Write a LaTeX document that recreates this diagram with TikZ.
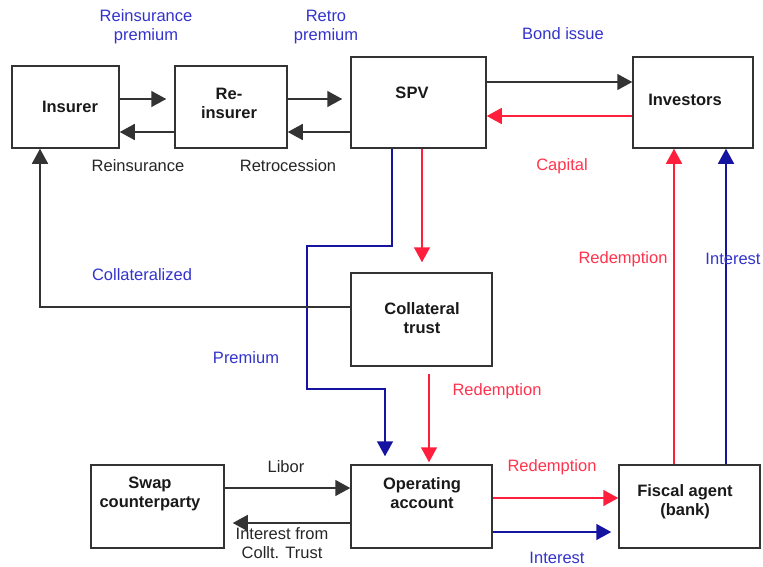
\documentclass[tikz,border=0pt]{standalone}
\usepackage{fontspec}
\setmainfont{Liberation Sans}
\usepackage{tikz}
\usetikzlibrary{arrows.meta, positioning}
\definecolor{flowblue}{RGB}{20,20,160}
\definecolor{flowred}{RGB}{255,30,60}
\definecolor{lblblue}{RGB}{51,51,204}
\definecolor{lblred}{RGB}{255,51,77}

\begin{document}
\begin{tikzpicture}[x=1pt,y=-1pt,>={Triangle[length=15pt,width=16pt]},
    box/.style={draw=black!80,line width=1.5pt,inner sep=0pt},
    boxtext/.style={font=\bfseries\fontsize{16.5}{19}\selectfont,align=center,text=black!90},
    lbl/.style={font=\fontsize{16.5}{19}\selectfont,align=center,text=black!85},
    bluelbl/.style={lbl,text=lblblue},
    redlbl/.style={lbl,text=lblred},
    money/.style={draw=black!80,line width=1.5pt},
    blueflow/.style={draw=flowblue,line width=1.5pt},
    redflow/.style={draw=flowred,line width=1.5pt}]

    \useasboundingbox (0,0) rectangle (763,566);

    % the boxes
    \node[box,minimum width=107pt,minimum height=82pt] (insurer) at (65.5,107) {};
    \node[box,minimum width=112pt,minimum height=82pt] (reins) at (231,107) {};
    \node[box,minimum width=135pt,minimum height=91pt] (spv) at (418.5,102.5) {};
    \node[box,minimum width=120pt,minimum height=91pt] (investors) at (693,102.5) {};
    \node[box,minimum width=141pt,minimum height=93pt] (colltrust) at (421.5,319.5) {};
    \node[box,minimum width=141pt,minimum height=83pt] (opacc) at (421.5,506.5) {};
    \node[box,minimum width=133pt,minimum height=83pt] (swap) at (157.5,506.5) {};
    \node[box,minimum width=141pt,minimum height=83pt] (fiscal) at (689.5,506.5) {};

    \node[boxtext] (insurer-t) at (70,107) {Insurer};
    \node[boxtext] (reins-t) at (229,103) {Re-\\insurer};
    \node[boxtext] (spv-t) at (412,93) {SPV};
    \node[boxtext] (investors-t) at (685,100) {Investors};
    \node[boxtext] (colltrust-t) at (422,318) {Collateral\\trust};
    \node[boxtext] (opacc-t) at (422,493) {Operating\\account};
    \node[boxtext] (swap-t) at (150,494) {Swap\\counterparty};
    \node[boxtext] (fiscal-t) at (685,502) {Fiscal agent\\(bank)};

    % top row
    \draw[money,->,shorten >=8pt] (insurer.east |- 0,99) -- (reins.west |- 0,99);
    \draw[money,->] (reins.west |- 0,132) -- (insurer.east |- 0,132);
    \draw[money,->,shorten >=8pt] (reins.east |- 0,99) -- (spv.west |- 0,99);
    \draw[money,->] (spv.west |- 0,132) -- (reins.east |- 0,132);
    \draw[money,->] (spv.east |- 0,82) -- (investors.west |- 0,82);
    \draw[redflow,->] (investors.west |- 0,116) -- (spv.east |- 0,116);

    % down from the SPV
    \draw[blueflow,->,shorten >=8pt] (spv.south -| 392,0) |- (307,246)
        -- (307,389) -| (opacc.north -| 385,0);
    \draw[redflow,->,shorten >=10pt] (spv.south -| 422,0) -- (colltrust.north -| 422,0);
    \draw[money,->] (colltrust.west |- 0,307) -| (insurer.south -| 40,0);
    \draw[redflow,->,shorten <=7pt,shorten >=2pt] (colltrust.south -| 429,0) -- (opacc.north -| 429,0);

    % bottom row
    \draw[money,->] (swap.east |- 0,488) -- (opacc.west |- 0,488);
    \draw[money,->,shorten >=8pt] (opacc.west |- 0,523) -- (swap.east |- 0,523);
    \draw[redflow,->] (opacc.east |- 0,498) -- (fiscal.west |- 0,498);
    \draw[blueflow,->,shorten >=7pt] (opacc.east |- 0,532) -- (fiscal.west |- 0,532);
    \draw[redflow,->] (fiscal.north -| 674,0) -- (investors.south -| 674,0);
    \draw[blueflow,->] (fiscal.north -| 726,0) -- (investors.south -| 726,0);

    % labels
    \node[bluelbl] (l-reinsprem) at (146,27) {Reinsurance\\premium};
    \node[bluelbl] (l-retroprem) at (326,27) {Retro\\premium};
    \node[lbl] (l-reins) at (138,166) {Reinsurance};
    \node[lbl] (l-retro) at (288,166) {Retrocession};
    \node[bluelbl] (l-bond) at (563,34) {Bond issue};
    \node[redlbl] (l-capital) at (562,166) {Capital};
    \node[bluelbl] (l-collat) at (142,275) {Collateralized};
    \node[bluelbl] (l-premium) at (246,358) {Premium};
    \node[redlbl] (l-redem1) at (497,391) {Redemption};
    \node[lbl] (l-libor) at (286,467) {Libor};
    \node[lbl] (l-intcoll) at (282,543) {Interest from\\Collt. Trust};
    \node[redlbl] (l-redem2) at (552,467) {Redemption};
    \node[bluelbl] (l-interest1) at (557,558) {Interest};
    \node[redlbl] (l-redem3) at (623,259) {Redemption};
    \node[bluelbl] (l-interest2) at (733,259) {Interest};
\end{tikzpicture}
\end{document}
